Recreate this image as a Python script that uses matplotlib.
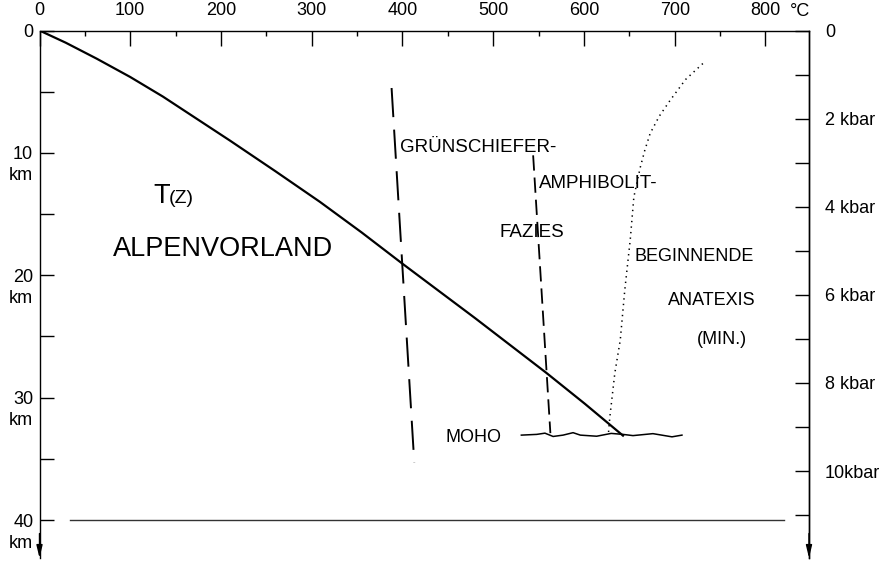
import matplotlib
matplotlib.use("Agg")
import matplotlib.pyplot as plt
from matplotlib.ticker import FixedLocator

plt.rcParams['font.family'] = ['Liberation Sans', 'DejaVu Sans']
plt.rcParams['lines.scale_dashes'] = False

# geotherm T(z) Alpenvorland (depth km, temperature degC)
geo_z = [0, 1.0, 2.3, 3.8, 5.4, 7.2, 9.0, 11.5, 14.0, 16.5, 19.0, 23.5, 28.0, 30.5, 33.1]
geo_T = [0, 29, 63, 100, 136, 173, 210, 260, 309, 355, 399, 480, 559, 601, 643]

# Gruenschiefer / Amphibolit facies boundary (long dashes)
gs_z = [4.7, 35.3]
gs_T = [388, 413]

# second facies boundary (short dashes)
amph_z = [10.2, 32.9]
amph_T = [544, 563]

# beginnende Anatexis (min.), dotted
anat_z = [2.7, 4.0, 5.7, 7.0, 8.4, 9.8, 11.2, 13.6, 17.1, 21.2, 25.3, 28.0, 31.6, 32.9]
anat_T = [731, 712, 695, 683, 673, 667, 662, 655, 651, 645, 640, 634, 628.5, 627]

# Moho, slightly jagged
moho_T = [531, 548, 557, 566, 577, 588, 596, 614, 630, 643, 654, 676, 697, 708]
moho_z = [33.06, 33.0, 32.9, 33.17, 33.06, 32.86, 33.06, 33.15, 32.92, 33.0,
          33.1, 32.94, 33.2, 33.06]

# 40 km base line
base_T = [34, 820]
base_z = [40, 40]

temp_ticks = [0, 100, 200, 300, 400, 500, 600, 700, 800]
temp_labels = ['0', '100', '200', '300', '400', '500', '600', '700', '800']
temp_minor = [50, 150, 250, 350, 450, 550, 650, 750]
depth_ticks = [0, 10, 20, 30, 40]
depth_labels = ['0', '10', '20', '30', '40']
depth_minor = [5, 15, 25, 35]
pressure_ticks = [0, 2, 4, 6, 8, 10]
pressure_labels = ['0', '2 kbar', '4 kbar', '6 kbar', '8 kbar', '10kbar']
pressure_minor = [1, 3, 5, 7, 9, 11]
KM_PER_KBAR = 3.6

T_MAX = 848
Z_MAX = 43.1

fig = plt.figure(figsize=(8.85, 5.62), dpi=100)
ax = fig.add_axes([39.5 / 885, 1 - 558 / 562, (809 - 39.5) / 885, (558 - 30.5) / 562])
ax.set_xlim(0, T_MAX)
ax.set_ylim(Z_MAX, 0)

ax.plot(geo_T, geo_z, color='black', lw=1.6)
ax.plot(gs_T, gs_z, color='black', lw=1.4, linestyle=(0, (21, 9)))
ax.plot(amph_T, amph_z, color='black', lw=1.3, linestyle=(0, (11, 5)))
ax.plot(anat_T, anat_z, color='black', lw=1.1, linestyle=(0, (1, 3)))
ax.plot(moho_T, moho_z, color='black', lw=1.1)
ax.plot(base_T, base_z, color='#333333', lw=1.0)

# axes: top temperature, left depth, right pressure
for s in ['left', 'right', 'top']:
    ax.spines[s].set_linewidth(1.0)
ax.spines['bottom'].set_visible(False)

ax.xaxis.set_ticks_position('top')
ax.set_xticks(temp_ticks, labels=temp_labels)
ax.xaxis.set_minor_locator(FixedLocator(temp_minor))
ax.tick_params(axis='x', which='major', direction='in', length=10.5, width=1,
               pad=8, labelsize=13)
ax.tick_params(axis='x', which='minor', direction='in', length=3.5, width=1)

ax.yaxis.set_ticks_position('left')
ax.set_yticks(depth_ticks, labels=depth_labels)
ax.yaxis.set_minor_locator(FixedLocator(depth_minor))
ax.tick_params(axis='y', which='both', direction='in', length=10, width=1,
               pad=4.5, labelsize=13)

sec = ax.secondary_yaxis('right', functions=(lambda z: z / KM_PER_KBAR,
                                             lambda p: p * KM_PER_KBAR))
sec.set_yticks(pressure_ticks, labels=pressure_labels)
sec.yaxis.set_minor_locator(FixedLocator(pressure_minor))
sec.tick_params(axis='y', which='both', direction='in', length=10, width=1,
                pad=11.5, labelsize=13)
sec.spines['right'].set_linewidth(1.0)

# "km" under the depth labels, unit after 800
for d in depth_ticks[1:]:
    ax.annotate('km', xy=(0, d), xytext=(-6.5, -23), textcoords='offset pixels',
                ha='right', va='center', fontsize=13, annotation_clip=False)
ax.annotate('°C', xy=(800, 0), xytext=(35, 18.5), textcoords='offset pixels',
            ha='center', va='center', fontsize=13, annotation_clip=False)

# downward arrows at the ends of the depth/pressure axes
for x in [0, T_MAX]:
    ax.annotate('', xy=(x, Z_MAX), xytext=(x, Z_MAX - 2),
                arrowprops=dict(arrowstyle='-|>,head_length=0.75,head_width=0.18',
                                color='black', lw=1, shrinkA=0, shrinkB=0),
                annotation_clip=False)

# labels
ax.text(125, 14.1, 'T', fontsize=19.5, va='baseline')
ax.text(142.5, 14.1, '(Z)', fontsize=14, va='baseline')
ax.text(81, 18.45, 'ALPENVORLAND', fontsize=19.5, va='baseline')
ax.text(397, 9.9, 'GRÜNSCHIEFER-', fontsize=13.5, va='baseline')
ax.text(550.4, 12.9, 'AMPHIBOLIT-', fontsize=13.5, va='baseline')
ax.text(507.4, 16.9, 'FAZIES', fontsize=13.5, va='baseline')
ax.text(656.2, 18.83, 'BEGINNENDE', fontsize=13, va='baseline')
ax.text(692.6, 22.45, 'ANATEXIS', fontsize=13, va='baseline')
ax.text(724, 25.6, '(MIN.)', fontsize=13, va='baseline')
ax.text(447, 33.6, 'MOHO', fontsize=13, va='baseline')

fig.savefig('out.png', dpi=100)
